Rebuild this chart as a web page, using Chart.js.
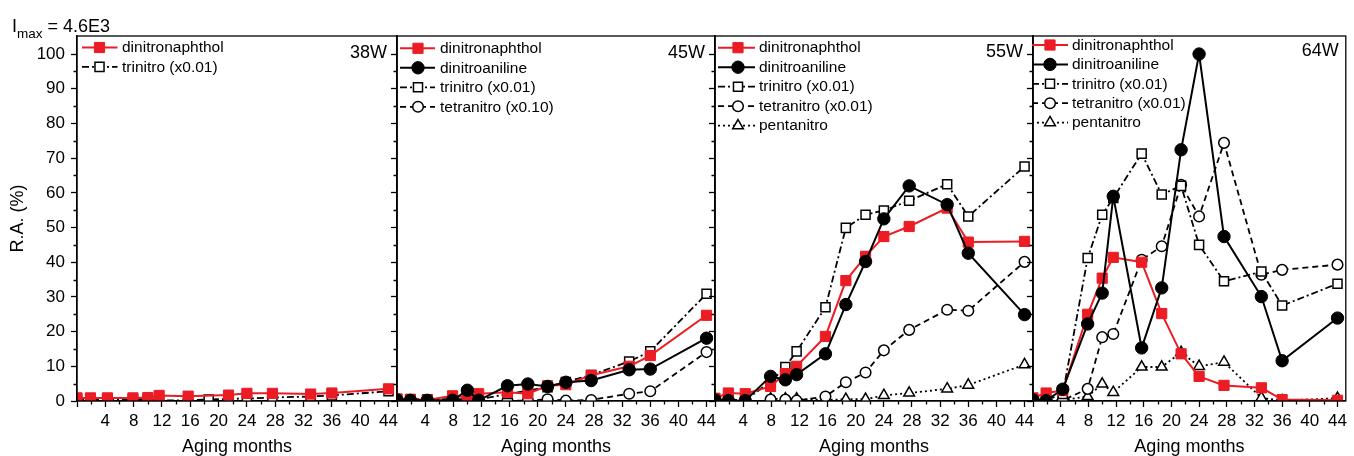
<!DOCTYPE html>
<html><head><meta charset="utf-8">
<script src="https://cdn.jsdelivr.net/npm/chart.js@4.4.0/dist/chart.umd.min.js"></script>
<style>
html,body{margin:0;padding:0;background:#fff;}
#wrap{position:relative;width:1354px;height:456px;overflow:hidden;background:#fff;}
#wrap canvas{position:absolute;left:0;top:0;}
#imax{position:absolute;left:12px;top:17px;font:18px "Liberation Sans",Arial,sans-serif;color:#000;z-index:5;white-space:nowrap;line-height:18px;}
#imax sub{font-size:13.5px;vertical-align:-6px;line-height:0;}
</style></head><body>
<div id="wrap">
<div id="imax">I<sub>max</sub> = 4.6E3</div>
<canvas id="c0" width="1354" height="456"></canvas>
<canvas id="c1" width="1354" height="456"></canvas>
<canvas id="c2" width="1354" height="456"></canvas>
<canvas id="c3" width="1354" height="456"></canvas>
</div>
<script>
// ---------- data ----------
const months = [0, 1.9, 4.3, 7.9, 10, 11.6, 15.7, 18.6, 21.4, 24, 27.6, 33, 36, 44];
const xTickValues = [0, 4, 8, 12, 16, 20, 24, 28, 32, 36, 40, 44];
const xMinorTicks = [2, 6, 10, 14, 18, 22, 26, 30, 34, 38, 42];
const yTickValues = [0, 10, 20, 30, 40, 50, 60, 70, 80, 90, 100];
const yMinorTicks = [5, 15, 25, 35, 45, 55, 65, 75, 85, 95];
const panelLabels = ['38W', '45W', '55W', '64W'];

// 38W
const w38_dinitronaphthol = [0.9, 0.9, 0.9, 0.9, 1.0, 1.6, 1.4, null, 1.7, 2.2, 2.2, 2.0, 2.3, 3.5];
const w38_trinitro        = [0.5, 0.5, 0.3, 0.5, 0.5, 0.2, 0.2, 0.4, 0.6, 0.7, 1.0, 1.3, 1.6, 2.8];
// 45W
const w45_dinitronaphthol = [0.6, 0.5, 0.3, 1.5, 1.0, 2.1, 2.5, 2.1, 4.4, 4.7, 7.4, 10.0, 13.1, 24.7];
const w45_dinitroaniline  = [0.3, 0.2, 0.2, 0.2, 3.1, 0.2, 4.4, 4.9, 4.2, 5.4, 5.9, 9.0, 9.2, 18.1];
const w45_trinitro        = [0.5, 0.5, 0.5, 0.5, 0.5, 0.5, 2.0, 3.0, 4.0, 5.5, 7.5, 11.4, 14.3, 30.9];
const w45_tetranitro      = [null, null, null, null, null, null, 0.1, 0.1, 0.5, 0.1, 0.3, 2.1, 2.8, 14.1];
// 55W
const w55_dinitronaphthol = [0.8, 2.3, 2.1, 4.2, 7.9, 10.0, 18.6, 34.7, 41.7, 47.4, 50.3, 55.6, 45.8, 46.0];
const w55_dinitroaniline  = [0.3, 0.1, 0.1, 7.1, 6.1, 7.6, 13.6, 27.8, 40.2, 52.5, 62.0, 56.6, 42.6, 24.9];
const w55_trinitro        = [0.3, 0.3, 0.3, 5.5, 9.8, 14.3, 27.0, 49.9, 53.7, 54.9, 57.7, 62.5, 53.2, 67.6];
const w55_tetranitro      = [null, null, null, 0.4, 0.4, 0.1, 1.3, 5.4, 8.2, 14.6, 20.5, 26.3, 26.0, 40.1];
const w55_pentanitro      = [null, null, null, 0.6, 0.6, 0.6, 0.3, 0.5, 0.5, 1.6, 2.3, 3.5, 4.6, 10.5];
// 64W
const w64_dinitronaphthol = [0.9, 2.3, 3.0, 25.0, 35.4, 41.4, 40.0, 25.2, 13.6, 7.1, 4.5, 3.8, 0.4, 0.2];
const w64_dinitroaniline  = [0.3, 0.1, 3.4, 22.2, 31.1, 59.0, 15.3, 32.6, 72.4, 100.0, 47.4, 30.1, 11.6, 23.9];
const w64_trinitro        = [0.3, 0.3, 2.0, 41.2, 53.7, 58.5, 71.3, 59.5, 62.0, 45.0, 34.5, 37.3, 27.5, 33.8];
const w64_tetranitro      = [null, 0.1, 0.2, 3.5, 18.4, 19.3, 40.7, 44.6, 62.3, 53.2, 74.4, 36.4, 37.8, 39.3];
const w64_pentanitro      = [null, null, 0.3, 1.3, 4.9, 2.5, 9.8, 9.8, 14.0, 10.0, 11.2, 0.9, 0.1, 0.8];

const legend38 = ['dinitronaphthol', 'trinitro (x0.01)'];
const legend45 = ['dinitronaphthol', 'dinitroaniline', 'trinitro (x0.01)', 'tetranitro (x0.10)'];
const legend55 = ['dinitronaphthol', 'dinitroaniline', 'trinitro (x0.01)', 'tetranitro (x0.01)', 'pentanitro'];
const legend64 = ['dinitronaphthol', 'dinitroaniline', 'trinitro (x0.01)', 'tetranitro (x0.01)', 'pentanitro'];

// ---------- styles / layout ----------
const FONT = '"Liberation Sans", Arial, Helvetica, sans-serif';
const RED = '#ec1c24';
const styles = {
  dinitronaphthol: {color: RED, fill: RED, dash: [], ps: 'rect', r: 7.2, bw: 1, lw: 2, order: 1},
  dinitroaniline:  {color: '#000', fill: '#000', dash: [], ps: 'circle', r: 6.2, bw: 1, lw: 2, order: 0},
  trinitro:        {color: '#000', fill: '#fff', dash: [7, 3, 2, 3], ps: 'rect', r: 6.4, bw: 1.5, lw: 1.8, order: 2},
  tetranitro:      {color: '#000', fill: '#fff', dash: [6, 4], ps: 'circle', r: 5.3, bw: 1.5, lw: 1.8, order: 3},
  pentanitro:      {color: '#000', fill: '#fff', dash: [2, 3], ps: 'triangle', r: 6.2, bw: 1.5, lw: 1.8, order: 4}
};

const panels = [
  {L: 77, R: 397, series: [['dinitronaphthol', w38_dinitronaphthol], ['trinitro', w38_trinitro]], legend: legend38,
   lg: {x1: 5, x2: 40.5, xm: 22.5, xt: 45, y0: 47.5, dy: 19.4}, lab: {dx: 10, y: 53}},
  {L: 397, R: 715, series: [['dinitronaphthol', w45_dinitronaphthol], ['dinitroaniline', w45_dinitroaniline], ['trinitro', w45_trinitro], ['tetranitro', w45_tetranitro]], legend: legend45,
   lg: {x1: 3, x2: 38, xm: 21, xt: 43, y0: 48.3, dy: 19.5}, lab: {dx: 10, y: 53}},
  {L: 715, R: 1033, series: [['dinitronaphthol', w55_dinitronaphthol], ['dinitroaniline', w55_dinitroaniline], ['trinitro', w55_trinitro], ['tetranitro', w55_tetranitro], ['pentanitro', w55_pentanitro]], legend: legend55,
   lg: {x1: 3, x2: 40, xm: 23, xt: 44, y0: 47.7, dy: 19.5}, lab: {dx: 10, y: 52}},
  {L: 1033, R: 1352, series: [['dinitronaphthol', w64_dinitronaphthol], ['dinitroaniline', w64_dinitroaniline], ['trinitro', w64_trinitro], ['tetranitro', w64_tetranitro], ['pentanitro', w64_pentanitro]], legend: legend64,
   lg: {x1: -1, x2: 35, xm: 17, xt: 39, y0: 45, dy: 19.4}, lab: {dx: 7, y: 51.5}}
];

Chart.defaults.font.family = FONT;
Chart.defaults.color = '#000';

function marker(ctx, ps, x, y, r) {
  ctx.beginPath();
  if (ps === 'rect') {
    const s = Math.SQRT1_2 * r;
    ctx.rect(x - s, y - s, 2 * s, 2 * s);
  } else if (ps === 'circle') {
    ctx.arc(x, y, r, 0, Math.PI * 2);
  } else {
    for (let k = 0; k < 3; k++) {
      const a = k * 2 * Math.PI / 3;
      const px = x + Math.sin(a) * r, py = y - Math.cos(a) * r;
      if (k === 0) ctx.moveTo(px, py); else ctx.lineTo(px, py);
    }
    ctx.closePath();
  }
}

const decorPlugin = {
  id: 'decor',
  afterDraw(chart, args, opts) {
    const ctx = chart.ctx;
    const {left, right, top, bottom} = chart.chartArea;
    const xs = chart.scales.x, ys = chart.scales.y;
    ctx.save();
    // frame
    ctx.strokeStyle = '#000';
    ctx.lineWidth = 1.3;
    ctx.setLineDash([]);
    ctx.strokeRect(left, top, right - left, bottom - top);
    // minor ticks
    ctx.beginPath();
    xMinorTicks.forEach(v => { const p = Math.round(xs.getPixelForValue(v)) + 0.5; ctx.moveTo(p, bottom); ctx.lineTo(p, bottom + 3.5); });
    yMinorTicks.forEach(v => { const p = Math.round(ys.getPixelForValue(v)) + 0.5; ctx.moveTo(left, p); ctx.lineTo(left - 3.5, p); });
    ctx.stroke();
    // legend
    const lg = opts.lg;
    ctx.font = '15.5px ' + FONT;
    ctx.textBaseline = 'middle';
    ctx.textAlign = 'left';
    chart.data.datasets.forEach((ds, k) => {
      const st = styles[ds.kind];
      const y = lg.y0 + k * lg.dy;
      ctx.strokeStyle = st.color;
      ctx.lineWidth = st.lw;
      ctx.setLineDash(st.dash);
      ctx.beginPath();
      ctx.moveTo(left + lg.x1, y); ctx.lineTo(left + lg.x2, y);
      ctx.stroke();
      ctx.setLineDash([]);
      ctx.lineWidth = st.bw;
      ctx.fillStyle = st.fill;
      marker(ctx, st.ps, left + lg.xm, y, st.r);
      ctx.fill();
      ctx.stroke();
      ctx.fillStyle = '#000';
      ctx.fillText(ds.label, left + lg.xt, y + 0.5);
    });
    // panel label
    ctx.font = '18px ' + FONT;
    ctx.textAlign = 'right';
    ctx.fillStyle = '#000';
    ctx.fillText(opts.label, right - opts.lab.dx, opts.lab.y);
    ctx.restore();
  }
};

panels.forEach((p, i) => {
  const datasets = p.series.map(([kind, arr], k) => {
    const st = styles[kind];
    return {
      kind: kind,
      label: p.legend[k],
      data: months.map((m, j) => ({x: m, y: arr[j]})),
      borderColor: st.color,
      backgroundColor: st.fill,
      borderWidth: st.lw,
      borderDash: st.dash,
      pointStyle: st.ps,
      pointRadius: st.r,
      pointBorderWidth: st.bw,
      pointBorderColor: st.color,
      pointBackgroundColor: st.fill,
      tension: 0,
      spanGaps: true,
      order: st.order
    };
  });
  const first = i === 0;
  new Chart(document.getElementById('c' + i), {
    type: 'line',
    data: {datasets},
    plugins: [decorPlugin],
    options: {
      responsive: false,
      animation: false,
      events: [],
      layout: {padding: {left: first ? 0 : p.L - 10, right: 1354 - p.R, top: 36, bottom: 0}},
      plugins: {
        legend: {display: false},
        tooltip: {enabled: false},
        decor: {lg: p.lg, lab: p.lab, label: panelLabels[i]}
      },
      scales: {
        x: {
          type: 'linear', min: 0, max: 45.2,
          afterBuildTicks: s => { s.ticks = xTickValues.map(v => ({value: v})); },
          afterFit: s => { s.height = 55; },
          ticks: {font: {size: 17}, color: '#000', padding: 4, maxRotation: 0, autoSkip: false,
                  callback: v => (v === 0 ? '' : String(v))},
          grid: {drawOnChartArea: false, tickLength: 6, tickWidth: 1.3, tickColor: '#000'},
          border: {color: '#000', width: 1.3},
          title: {display: true, text: 'Aging months', font: {size: 18, lineHeight: 1}, color: '#000', padding: 0}
        },
        y: {
          type: 'linear', min: 0, max: 105.2,
          afterBuildTicks: s => { s.ticks = yTickValues.map(v => ({value: v})); },
          afterFit: s => { s.width = first ? 77 : 10; },
          ticks: {display: first, font: {size: 17}, color: '#000', padding: 6},
          grid: {drawOnChartArea: false, tickLength: 6, tickWidth: 1.3, tickColor: '#000'},
          border: {color: '#000', width: 1.3},
          title: {display: first, text: 'R.A. (%)', font: {size: 18}, color: '#000', padding: {top: 7, bottom: 0}}
        }
      }
    }
  });
});
</script>
</body></html>
